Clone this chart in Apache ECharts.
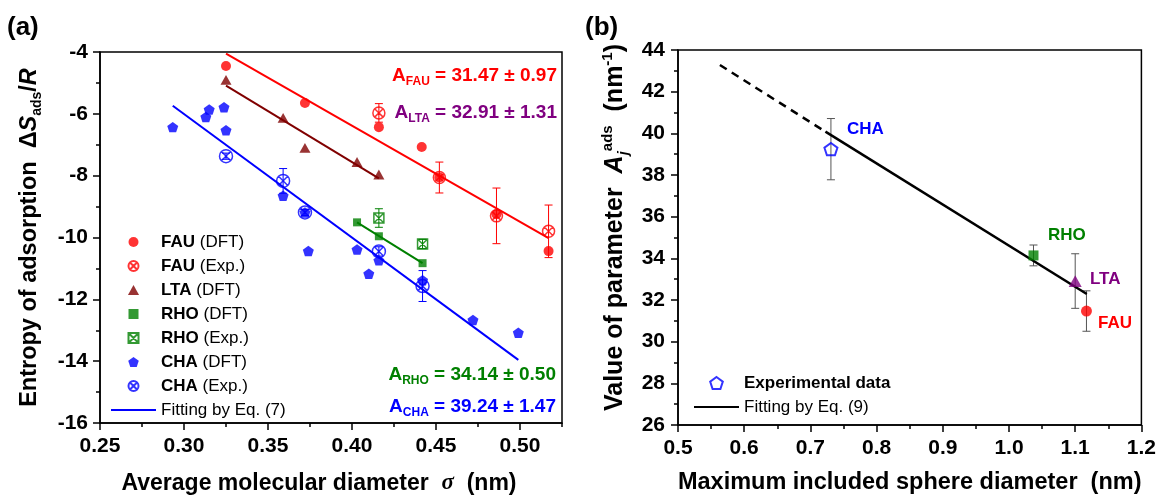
<!DOCTYPE html>
<html>
<head>
<meta charset="utf-8">
<script src="https://cdn.jsdelivr.net/npm/echarts@6/dist/echarts.min.js"></script>
<style>
  html, body { margin: 0; padding: 0; background: #fff; }
  #chart { width: 1159px; height: 500px; }
</style>
</head>
<body>
<div id="chart"></div>
<script>
// ---- panel (a): entropy of adsorption vs molecular diameter ----
const fauDftX = [0.325, 0.372, 0.416, 0.4415, 0.452, 0.486, 0.517];
const fauDftY = [-4.45, -5.65, -6.43, -7.07, -8.06, -9.25, -10.44];
const fauExpX = [0.416, 0.452, 0.486, 0.517];
const fauExpY = [-5.97, -8.06, -9.30, -9.80];
const fauExpErr = [0.3, 0.5, 0.9, 0.85];

const ltaDftX = [0.325, 0.359, 0.372, 0.403, 0.416];
const ltaDftY = [-4.90, -6.13, -7.10, -7.56, -7.96];

const rhoDftX = [0.403, 0.416, 0.442];
const rhoDftY = [-9.51, -9.96, -10.83];
const rhoExpX = [0.416, 0.442];
const rhoExpY = [-9.37, -10.21];
const rhoExpErr = [0.3, 0.15];

const chaDftX = [0.2933, 0.313, 0.315, 0.3238, 0.325, 0.359, 0.372, 0.374, 0.403, 0.410, 0.416, 0.442, 0.472, 0.499];
const chaDftY = [-6.43, -6.10, -5.86, -5.79, -6.53, -8.65, -9.19, -10.44, -10.39, -11.17, -10.74, -11.38, -12.67, -13.08];
const chaExpX = [0.325, 0.359, 0.372, 0.416, 0.442];
const chaExpY = [-7.37, -8.17, -9.19, -10.45, -11.57];
const chaExpErr = [0.1, 0.4, 0.1, 0.15, 0.5];

const fauFitX = [0.325, 0.517], fauFitY = [-4.05, -10.02];
const ltaFitX = [0.325, 0.416], ltaFitY = [-5.09, -8.09];
const rhoFitX = [0.403, 0.442], rhoFitY = [-9.51, -10.83];
const chaFitX = [0.2933, 0.499], chaFitY = [-5.74, -13.96];

const xTicksA = [0.25, 0.30, 0.35, 0.40, 0.45, 0.50];
const xMinorA = [0.275, 0.325, 0.375, 0.425, 0.475, 0.525];

// ---- panel (b): parameter A vs maximum included sphere diameter ----
const zeoNames = ['CHA', 'RHO', 'LTA', 'FAU'];
const zeoX = [0.731, 1.037, 1.100, 1.117];
const zeoA = [39.24, 34.14, 32.91, 31.47];
const zeoErr = [1.47, 0.50, 1.31, 0.97];
const fitSolidX = [0.7227, 1.1175], fitSolidY = [40.08, 32.29];
const fitDashX = [0.5633, 0.7227], fitDashY = [43.28, 40.08];

const FONT = '"Liberation Sans", Arial, sans-serif';
const RED = '#ff0000', DKRED = '#800000', GREEN = '#008000', BLUE = '#0000ff', PURPLE = '#800080';

const PENTA = 'path://M0,-10L9.51,-3.09L5.88,8.09L-5.88,8.09L-9.51,-3.09Z';
const TRI = 'path://M0,-10L10,8L-10,8Z';
const SQUARE = 'path://M-10,-10L10,-10L10,10L-10,10Z';
const OCROSS = 'path://M10,0A10,10 0 1 1 -10,0A10,10 0 1 1 10,0ZM-7.07,-7.07L7.07,7.07M-7.07,7.07L7.07,-7.07';
const SCROSS = 'path://M-10,-10L10,-10L10,10L-10,10ZM-10,-10L10,10M-10,10L10,-10';
const CLEAR = 'rgba(255,255,255,0)';

function pts(xs, ys) {
  return xs.map((x, i) => [x, ys[i]]);
}

function errBars(xs, ys, errs, color, grid) {
  return {
    type: 'custom',
    name: 'err',
    xAxisIndex: grid === 0 ? 0 : 2,
    yAxisIndex: grid,
    silent: true,
    encode: { x: 0, y: [1, 2] },
    data: xs.map((x, i) => [x, ys[i] - errs[i], ys[i] + errs[i]]),
    renderItem(params, api) {
      const lo = api.coord([api.value(0), api.value(1)]);
      const hi = api.coord([api.value(0), api.value(2)]);
      const c = 4;
      const style = { stroke: color, lineWidth: 1 };
      return {
        type: 'group',
        children: [
          { type: 'line', shape: { x1: lo[0], y1: lo[1], x2: hi[0], y2: hi[1] }, style },
          { type: 'line', shape: { x1: lo[0] - c, y1: lo[1], x2: lo[0] + c, y2: lo[1] }, style },
          { type: 'line', shape: { x1: hi[0] - c, y1: hi[1], x2: hi[0] + c, y2: hi[1] }, style }
        ]
      };
    }
  };
}

function fitLine(name, xs, ys, color, grid, width, dashed) {
  return {
    type: 'line', name,
    xAxisIndex: grid === 0 ? 0 : 2, yAxisIndex: grid,
    data: pts(xs, ys),
    symbol: 'none', silent: true,
    lineStyle: { color, width, type: dashed ? [8, 6] : 'solid' },
    // transparent item colour keeps the legend icon a plain line
    itemStyle: { color: CLEAR, borderWidth: 0 }
  };
}

function dots(name, xs, ys, symbol, size, color, hollow) {
  return {
    type: 'scatter', name, xAxisIndex: 0, yAxisIndex: 0,
    data: pts(xs, ys), symbol, symbolSize: size, symbolKeepAspect: true,
    itemStyle: hollow
      ? { color: CLEAR, borderColor: color, borderWidth: 1.5 }
      : { color },
    z: hollow ? 4 : 3
  };
}

const tickLabel = { color: '#000', fontSize: 21, fontWeight: 'bold', fontFamily: FONT };
const axisLine = { show: true, lineStyle: { color: '#000', width: 1.5 } };
const tickLine = { color: '#000', width: 1.5 };

function richSet(size) {
  const n = { fontSize: size, fontWeight: 'bold', fontFamily: FONT, color: '#000', lineHeight: size + 6 };
  const i = Object.assign({}, n, { fontStyle: 'italic' });
  const s = { fontSize: Math.round(size * 0.6), fontWeight: 'bold', fontFamily: FONT, color: '#000', lineHeight: 12, verticalAlign: 'bottom' };
  const si = Object.assign({}, s, { fontStyle: 'italic' });
  const p = Object.assign({}, s, { verticalAlign: 'top' });
  const g = { fontSize: size, fontFamily: '"Liberation Serif", serif', fontStyle: 'italic', color: '#000', lineHeight: size + 6 };
  return { n, i, s, si, p, g };
}

const zeoStyle = {
  CHA: { symbol: PENTA, symbolSize: 13, itemStyle: { color: CLEAR, borderColor: BLUE, borderWidth: 2 } },
  RHO: { symbol: SQUARE, symbolSize: 10, itemStyle: { color: GREEN, borderWidth: 0 } },
  LTA: { symbol: TRI, symbolSize: 13, itemStyle: { color: PURPLE, borderWidth: 0 } },
  FAU: { symbol: 'circle', symbolSize: 11, itemStyle: { color: RED, borderWidth: 0 } }
};

function legendFmt(name) {
  if (name.startsWith('Fitting')) return '{r|' + name + '}';
  const i = name.indexOf(' (');
  if (i < 0) return '{b|' + name + '}';
  return '{b|' + name.slice(0, i) + '}{r|' + name.slice(i) + '}';
}
const legendRich = {
  b: { fontSize: 17, fontWeight: 'bold', fontFamily: FONT, color: '#000', lineHeight: 24 },
  r: { fontSize: 17, fontWeight: 'normal', fontFamily: FONT, color: '#000', lineHeight: 24 }
};

function annot(x, y, sub, rest, color) {
  return {
    type: 'text', x, y, silent: true,
    style: {
      text: '{a|A}{s|' + sub + '}{a|' + rest + '}',
      align: 'right', verticalAlign: 'middle',
      rich: {
        a: { fontSize: 19, fontWeight: 'bold', fontFamily: FONT, fill: color, lineHeight: 24 },
        s: { fontSize: 12, fontWeight: 'bold', fontFamily: FONT, fill: color, lineHeight: 12, verticalAlign: 'bottom' }
      }
    }
  };
}

function tag(x, y, text, color) {
  return {
    type: 'text', x, y, silent: true,
    style: { text, fontSize: 17, fontWeight: 'bold', fontFamily: FONT, fill: color, verticalAlign: 'middle' }
  };
}

function panelTag(x, text) {
  return {
    type: 'text', x, y: 28, silent: true,
    style: { text, fontSize: 26, fontWeight: 'bold', fontFamily: FONT, fill: '#000', verticalAlign: 'middle' }
  };
}

const chart = echarts.init(document.getElementById('chart'), null, { renderer: 'canvas' });

chart.setOption({
  animation: false,
  backgroundColor: '#fff',
  grid: [
    { left: 100, top: 52, width: 462, height: 373, show: true, borderColor: '#000', borderWidth: 1.5 },
    { left: 678, top: 50, width: 464, height: 375, show: true, borderColor: '#000', borderWidth: 1.5 }
  ],
  xAxis: [
    {
      gridIndex: 0, type: 'value', position: 'bottom', min: 0.25, max: 0.525,
      name: '{n|Average molecular diameter  }{g|σ}{n|  (nm)}',
      nameLocation: 'middle', nameGap: 46,
      nameTextStyle: { fontSize: 23, fontWeight: 'bold', fontFamily: FONT, color: '#000', padding: [0, 24, 0, 0], rich: richSet(23) },
      axisLine,
      axisTick: { customValues: xTicksA, length: 7, lineStyle: tickLine },
      axisLabel: Object.assign({ customValues: xTicksA, margin: 13, formatter: v => v.toFixed(2) }, tickLabel),
      splitLine: { show: false }
    },
    {
      gridIndex: 0, type: 'value', position: 'bottom', min: 0.25, max: 0.525,
      axisLine: { show: false },
      axisTick: { customValues: xMinorA, length: 4, lineStyle: tickLine },
      axisLabel: { show: false },
      splitLine: { show: false }
    },
    {
      gridIndex: 1, type: 'value', position: 'bottom', min: 0.5, max: 1.2, interval: 0.1,
      name: 'Maximum included sphere diameter  (nm)',
      nameLocation: 'middle', nameGap: 46,
      nameTextStyle: { fontSize: 23.5, fontWeight: 'bold', fontFamily: FONT, color: '#000' },
      axisLine,
      axisTick: { length: 7, lineStyle: tickLine },
      minorTick: { show: true, splitNumber: 2, length: 4, lineStyle: tickLine },
      axisLabel: Object.assign({ margin: 13, formatter: v => v.toFixed(1) }, tickLabel),
      splitLine: { show: false }
    }
  ],
  yAxis: [
    {
      gridIndex: 0, type: 'value', min: -16, max: -4, interval: 2,
      name: '{n|Entropy of adsorption  Δ}{i|S}{s|ads}{n|/}{i|R}',
      nameLocation: 'middle', nameGap: 56, nameRotate: 90,
      nameTextStyle: { fontSize: 23.5, fontWeight: 'bold', fontFamily: FONT, color: '#000', rich: richSet(23.5) },
      axisLine,
      axisTick: { length: 7, lineStyle: tickLine },
      minorTick: { show: true, splitNumber: 2, length: 4, lineStyle: tickLine },
      axisLabel: Object.assign({ margin: 12 }, tickLabel),
      splitLine: { show: false }
    },
    {
      gridIndex: 1, type: 'value', min: 26, max: 44, interval: 2,
      name: '{n|Value of parameter  }{i|A}{si|j}{p|ads}{n|  (nm}{p|-1}{n|)}',
      nameLocation: 'middle', nameGap: 47, nameRotate: 90,
      nameTextStyle: { fontSize: 25, fontWeight: 'bold', fontFamily: FONT, color: '#000', padding: [0, 0, 0, 20], rich: richSet(25) },
      axisLine,
      axisTick: { length: 7, lineStyle: tickLine },
      minorTick: { show: true, splitNumber: 2, length: 4, lineStyle: tickLine },
      axisLabel: Object.assign({ margin: 13 }, tickLabel),
      splitLine: { show: false }
    }
  ],
  legend: [
    {
      left: 105, top: 225, orient: 'vertical',
      itemWidth: 45, itemHeight: 10, itemGap: 0,
      data: ['FAU (DFT)', 'FAU (Exp.)', 'LTA (DFT)', 'RHO (DFT)', 'RHO (Exp.)', 'CHA (DFT)', 'CHA (Exp.)', 'Fitting by Eq. (7)'],
      formatter: legendFmt,
      textStyle: { fontFamily: FONT, fontSize: 17, color: '#000', lineHeight: 24, rich: legendRich },
      selectedMode: false
    },
    {
      left: 688, top: 366, orient: 'vertical',
      itemWidth: 45, itemHeight: 12, itemGap: 0,
      data: ['Experimental data', 'Fitting by Eq. (9)'],
      formatter: legendFmt,
      textStyle: { fontFamily: FONT, fontSize: 17, color: '#000', lineHeight: 24, rich: legendRich },
      selectedMode: false
    }
  ],
  graphic: [
    panelTag(7, '(a)'),
    panelTag(585, '(b)'),
    annot(557, 76, 'FAU', ' = 31.47 ± 0.97', RED),
    annot(557, 113, 'LTA', ' = 32.91 ± 1.31', PURPLE),
    annot(556, 375, 'RHO', ' = 34.14 ± 0.50', GREEN),
    annot(556, 407, 'CHA', ' = 39.24 ± 1.47', BLUE),
    tag(847, 129, 'CHA', BLUE),
    tag(1048, 235, 'RHO', GREEN),
    tag(1090, 279, 'LTA', PURPLE),
    tag(1098, 323, 'FAU', RED)
  ],
  series: [
    errBars(fauExpX, fauExpY, fauExpErr, RED, 0),
    errBars(rhoExpX, rhoExpY, rhoExpErr, GREEN, 0),
    errBars(chaExpX, chaExpY, chaExpErr, BLUE, 0),
    fitLine('fitFAU', fauFitX, fauFitY, RED, 0, 2),
    fitLine('fitLTA', ltaFitX, ltaFitY, DKRED, 0, 2),
    fitLine('fitRHO', rhoFitX, rhoFitY, GREEN, 0, 2),
    fitLine('Fitting by Eq. (7)', chaFitX, chaFitY, BLUE, 0, 2),
    dots('FAU (DFT)', fauDftX, fauDftY, 'circle', 10, RED, false),
    dots('LTA (DFT)', ltaDftX, ltaDftY, TRI, 11, DKRED, false),
    dots('RHO (DFT)', rhoDftX, rhoDftY, SQUARE, 8, GREEN, false),
    dots('CHA (DFT)', chaDftX, chaDftY, PENTA, 11, BLUE, false),
    dots('FAU (Exp.)', fauExpX, fauExpY, OCROSS, 12, RED, true),
    dots('RHO (Exp.)', rhoExpX, rhoExpY, SCROSS, 10, GREEN, true),
    dots('CHA (Exp.)', chaExpX, chaExpY, OCROSS, 13, BLUE, true),

    errBars(zeoX, zeoA, zeoErr, '#555', 1),
    fitLine('Fitting by Eq. (9)', fitSolidX, fitSolidY, '#000', 1, 2.5),
    fitLine('fitDash', fitDashX, fitDashY, '#000', 1, 2.5, true),
    {
      type: 'scatter', name: 'Experimental data', xAxisIndex: 2, yAxisIndex: 1,
      symbol: PENTA, symbolSize: 13, symbolKeepAspect: true,
      itemStyle: { color: CLEAR, borderColor: BLUE, borderWidth: 2 },
      data: zeoNames.map((n, i) => Object.assign({ value: [zeoX[i], zeoA[i]] }, zeoStyle[n])),
      z: 4
    }
  ]
});
</script>
</body>
</html>
